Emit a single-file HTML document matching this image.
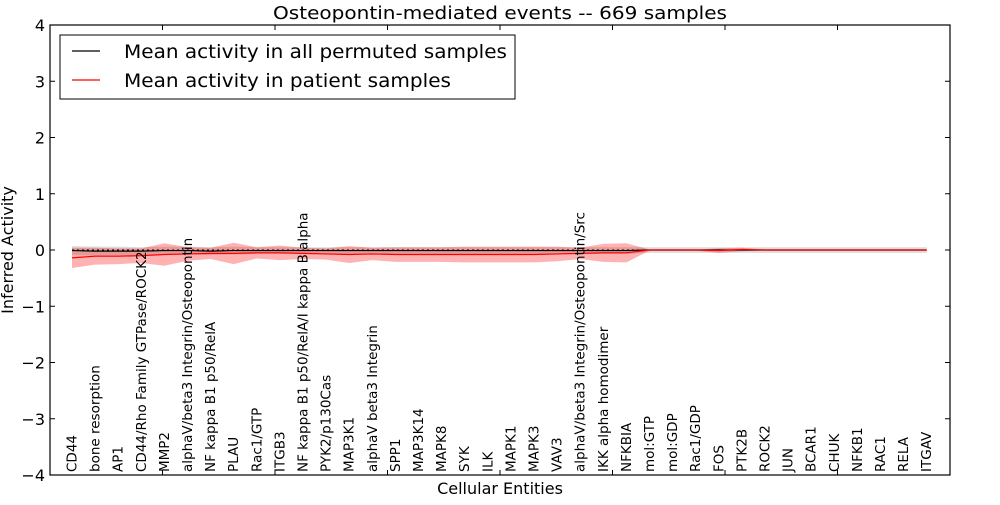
<!DOCTYPE html>
<html><head><meta charset="utf-8"><style>
body{margin:0;background:#fff;}
svg{font-family:"DejaVu Sans","Liberation Sans",sans-serif;}
</style></head><body>
<svg id="chart" width="1000" height="500">
<text x="500" y="19" text-anchor="middle" font-size="18" textLength="454" lengthAdjust="spacingAndGlyphs">Osteopontin-mediated events -- 669 samples</text>
<g id="fills"></g>
<g id="lines"></g>
<rect x="50" y="25" width="900" height="450" fill="none" stroke="#000" stroke-width="1.2"/>
<g id="yaxis"></g>
<g id="xlabels"></g>
<text x="500" y="494" text-anchor="middle" font-size="16">Cellular Entities</text>
<text transform="translate(13,250) rotate(-90)" text-anchor="middle" font-size="16">Inferred Activity</text>
<g>
<rect x="60" y="35" width="455" height="64" fill="#fff" stroke="#000" stroke-width="1"/>
<line x1="72" y1="51" x2="100" y2="51" stroke="#000" stroke-width="1.2"/>
<text x="124" y="58" font-size="19" textLength="383" lengthAdjust="spacingAndGlyphs">Mean activity in all permuted samples</text>
<line x1="72" y1="80" x2="100" y2="80" stroke="#f00" stroke-width="1.2"/>
<text x="124" y="87" font-size="19" textLength="327" lengthAdjust="spacingAndGlyphs">Mean activity in patient samples</text>
</g>
</svg>
<script>
const categories=["CD44","bone resorption","AP1","CD44/Rho Family GTPase/ROCK2","MMP2","alphaV/beta3 Integrin/Osteopontin","NF kappa B1 p50/RelA","PLAU","Rac1/GTP","ITGB3","NF kappa B1 p50/RelA/I kappa B alpha","PYK2/p130Cas","MAP3K1","alphaV beta3 Integrin","SPP1","MAP3K14","MAPK8","SYK","ILK","MAPK1","MAPK3","VAV3","alphaV/beta3 Integrin/Osteopontin/Src","IKK alpha homodimer","NFKBIA","mol:GTP","mol:GDP","Rac1/GDP","FOS","PTK2B","ROCK2","JUN","BCAR1","CHUK","NFKB1","RAC1","RELA","ITGAV"];
const patientMean=[-0.14,-0.11,-0.11,-0.10,-0.08,-0.07,-0.06,-0.06,-0.05,-0.05,-0.06,-0.07,-0.08,-0.07,-0.08,-0.08,-0.08,-0.08,-0.08,-0.08,-0.08,-0.07,-0.06,-0.05,-0.05,0,0,0,-0.01,0.01,0,0,0,0,0,0,0,0];
const patientStd=[0.18,0.15,0.14,0.13,0.2,0.12,0.1,0.19,0.1,0.13,0.1,0.1,0.15,0.11,0.13,0.13,0.13,0.14,0.14,0.14,0.14,0.13,0.1,0.16,0.17,0.01,0.01,0.01,0.04,0.03,0.01,0.01,0.01,0.01,0.01,0.01,0.01,0.01];
const permMean=[-0.01,-0.02,-0.02,-0.02,-0.01,-0.01,-0.02,-0.01,-0.01,-0.01,-0.01,-0.01,-0.01,-0.01,-0.01,-0.01,-0.01,-0.01,-0.01,-0.01,-0.01,-0.01,-0.01,-0.01,-0.01,0,0,0,0,0,0,0,0,0,0,0,0,0];
const permStd=[0.08,0.08,0.08,0.07,0.07,0.07,0.07,0.07,0.06,0.06,0.06,0.06,0.06,0.06,0.06,0.06,0.06,0.06,0.06,0.06,0.06,0.06,0.06,0.06,0.06,0.05,0.05,0.05,0.05,0.05,0.05,0.05,0.05,0.05,0.05,0.05,0.05,0.05];
const yTicks=[4,3,2,1,0,-1,-2,-3,-4];
const NS="http://www.w3.org/2000/svg";
const X=i=>72+i*23.1;
const Y=v=>250-v*56.25;
function mk(tag,attrs,parent){const e=document.createElementNS(NS,tag);for(const k in attrs)e.setAttribute(k,attrs[k]);parent.appendChild(e);return e;}
const fills=document.getElementById('fills'),lines=document.getElementById('lines');
function band(m,s,color,op,name){
  let pts=m.map((v,i)=>X(i)+','+Y(v+s[i]));
  for(let i=m.length-1;i>=0;i--)pts.push(X(i)+','+Y(m[i]-s[i]));
  const p=mk('polygon',{points:pts.join(' '),fill:color,'fill-opacity':op},fills);
  
  
}
band(permMean,permStd,'#999',0.35,'permuted-band');
band(patientMean,patientStd,'#f00',0.3,'patient-band');
const z=mk('line',{x1:X(0),x2:X(categories.length-1),y1:Y(0),y2:Y(0),stroke:'#000','stroke-width':1,'stroke-dasharray':'2,3'},lines);


const l1=mk('polyline',{points:permMean.map((v,i)=>X(i)+','+Y(v)).join(' '),fill:'none',stroke:'#000','stroke-width':1.2},lines);


const l2=mk('polyline',{points:patientMean.map((v,i)=>X(i)+','+Y(v)).join(' '),fill:'none',stroke:'#f00','stroke-width':1.2},lines);


const ya=document.getElementById('yaxis');
yTicks.forEach(t=>{
  mk('line',{x1:50,x2:55,y1:Y(t),y2:Y(t),stroke:'#000'},ya);
  mk('line',{x1:945,x2:950,y1:Y(t),y2:Y(t),stroke:'#000'},ya);
  const tx=mk('text',{x:45,y:Y(t)+6,'text-anchor':'end','font-size':16},ya);
  tx.textContent=(t<0?'\u2212'+(-t):t);
  
  
});
[5,10,15,20,25,30,35].forEach(k=>{const x=50+k*22.5;mk('line',{x1:x,x2:x,y1:25,y2:30,stroke:'#000'},ya);mk('line',{x1:x,x2:x,y1:470,y2:475,stroke:'#000'},ya);});
const xl=document.getElementById('xlabels');
categories.forEach((c,i)=>{
  const x=X(i)+4.5;
  const t=mk('text',{transform:'translate('+x+',472) rotate(-90)','font-size':13.5},xl);
  t.textContent=c;
  
  
});
</script>
</body></html>
